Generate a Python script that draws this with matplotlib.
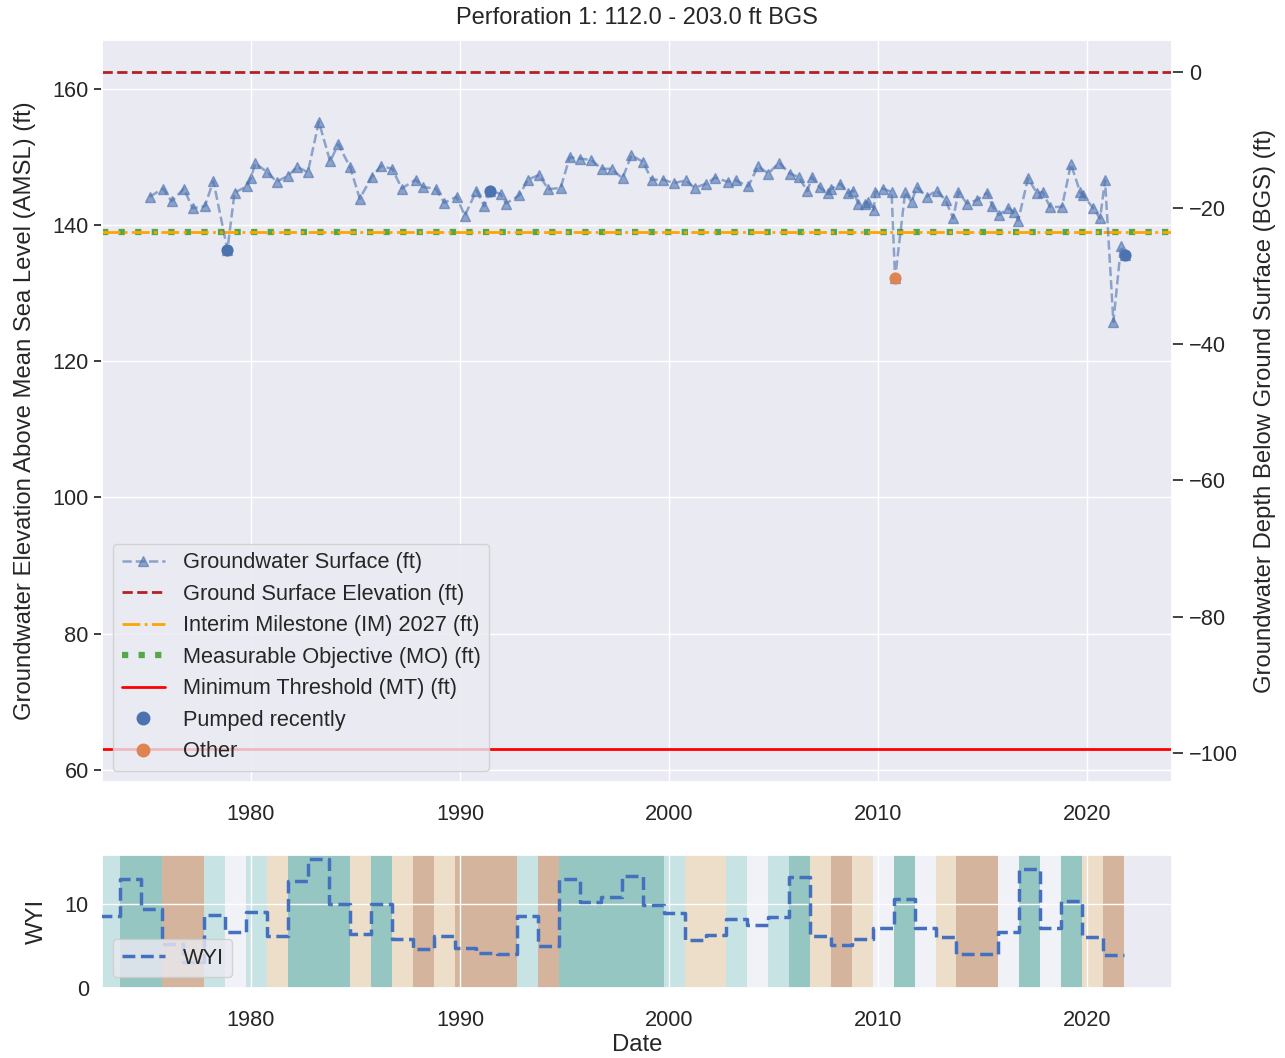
import matplotlib
matplotlib.use('Agg')
import matplotlib.pyplot as plt
from matplotlib.lines import Line2D
import seaborn as sns
import pandas as pd

# ---------------- data ----------------
gw_dates = ['1975-03-01', '1975-10-15', '1976-03-15', '1976-10-15', '1977-03-15', '1977-10-15',
            '1978-03-15', '1978-11-15', '1979-03-20', '1979-10-15', '1980-01-01', '1980-03-15',
            '1980-10-15', '1981-03-25', '1981-10-15', '1982-03-15', '1982-09-20', '1983-04-01',
            '1983-10-15', '1984-03-05', '1984-10-01', '1985-03-15', '1985-10-10', '1986-03-20',
            '1986-10-05', '1987-03-20', '1987-11-15', '1988-04-01', '1988-11-01', '1989-04-01',
            '1989-11-01', '1990-03-25', '1990-10-15', '1991-03-01', '1991-06-10', '1991-12-10',
            '1992-03-15', '1992-11-01', '1993-04-01', '1993-10-10', '1994-03-25', '1994-10-25',
            '1995-04-01', '1995-09-25', '1996-04-15', '1996-10-10', '1997-04-01', '1997-10-10',
            '1998-03-15', '1998-10-05', '1999-03-01', '1999-09-20', '2000-04-01', '2000-10-20',
            '2001-03-25', '2001-10-05', '2002-03-15', '2002-10-20', '2003-03-15', '2003-10-15',
            '2004-04-05', '2004-10-01', '2005-04-05', '2005-10-15', '2006-03-15', '2006-08-15',
            '2006-11-01', '2007-03-15', '2007-08-05', '2007-10-10', '2008-03-15', '2008-07-25',
            '2008-10-20', '2009-01-20', '2009-05-15', '2009-07-01', '2009-10-15', '2009-11-15',
            '2010-03-25', '2010-08-25', '2010-10-25', '2011-04-20', '2011-08-10', '2011-11-05',
            '2012-05-01', '2012-10-20', '2013-03-25', '2013-08-05', '2013-11-05', '2014-04-01',
            '2014-09-25', '2015-03-25', '2015-06-15', '2015-10-10', '2016-03-25', '2016-07-01',
            '2016-09-15', '2017-03-05', '2017-08-10', '2017-11-15', '2018-03-25', '2018-10-20',
            '2019-03-25', '2019-09-01', '2019-10-20', '2020-04-20', '2020-08-15', '2020-11-10',
            '2021-04-05', '2021-08-15', '2021-10-25']
gw_values = [144.2, 145.4, 143.5, 145.4, 142.5, 142.8,
             146.5, 136.4, 144.8, 145.7, 147.0, 149.1,
             147.8, 146.4, 147.3, 148.6, 147.8, 155.2,
             149.4, 151.9, 148.5, 143.9, 147.1, 148.7,
             148.3, 145.4, 146.7, 145.6, 145.4, 143.3,
             144.2, 141.4, 145.1, 142.8, 145.1, 144.6,
             143.2, 144.4, 146.7, 147.4, 145.3, 145.5,
             150.0, 149.8, 149.6, 148.3, 148.3, 146.9,
             150.3, 149.3, 146.7, 146.7, 146.2, 146.6,
             145.5, 146.1, 147.0, 146.4, 146.6, 145.7,
             148.7, 147.6, 149.2, 147.6, 147.1, 145.0,
             147.1, 145.6, 144.7, 145.4, 146.1, 144.7,
             145.1, 143.2, 143.2, 143.4, 142.2, 144.9,
             145.4, 144.9, 132.2, 144.9, 143.4, 145.6,
             144.2, 145.1, 143.7, 141.0, 144.9, 143.2,
             143.7, 144.8, 142.9, 141.5, 142.5, 142.0,
             140.7, 146.9, 144.7, 144.9, 142.7, 142.7,
             149.0, 144.9, 144.4, 142.5, 141.0, 146.6,
             125.8, 136.9, 135.7]

pumped_dates = ['1978-11-15', '1991-06-10', '2021-10-25']
pumped_values = [136.4, 145.1, 135.7]
other_dates = ['2010-10-25']
other_values = [132.2]

ground_surface = 162.5
interim_milestone = 139.0
measurable_objective = 139.0
minimum_threshold = 63.0

water_years = list(range(1973, 2022))
wyi_values = [8.58, 12.99, 9.35, 5.29, 3.11, 8.65, 6.67, 9.04, 6.21, 12.76,
              15.29, 10.00, 6.47, 9.96, 5.86, 4.65, 6.13, 4.81, 4.21, 4.06,
              8.54, 5.02, 12.89, 10.26, 10.82, 13.31, 9.80, 8.94, 5.76, 6.35,
              8.21, 7.51, 8.49, 13.20, 6.19, 5.16, 5.78, 7.08, 10.54, 7.08,
              6.09, 4.07, 4.00, 6.71, 14.14, 7.14, 10.34, 6.05, 3.95]
wy_types = ['AN', 'W', 'W', 'C', 'C', 'AN', 'BN', 'AN', 'D', 'W',
            'W', 'W', 'D', 'W', 'D', 'C', 'D', 'C', 'C', 'C',
            'AN', 'C', 'W', 'W', 'W', 'W', 'W', 'AN', 'D', 'D',
            'AN', 'BN', 'AN', 'W', 'D', 'C', 'D', 'BN', 'W', 'BN',
            'D', 'C', 'C', 'BN', 'W', 'BN', 'W', 'D', 'C']
type_colors = {'W': '#96c6c1', 'AN': '#c8e3e3', 'BN': '#f1f1f8',
               'D': '#ecdec8', 'C': '#d5b49d'}

title = 'Perforation 1: 112.0 - 203.0 ft BGS'

# ---------------- plot ----------------
sns.set_theme(style='darkgrid')
plt.rcParams['font.family'] = ['Liberation Sans', 'DejaVu Sans']

TICK = 15.7
LAB = 17.2

fig = plt.figure(figsize=(12.85, 10.58), dpi=100)
ax = fig.add_axes([0.0794, 0.261, 0.8327, 0.701])
ax2 = ax.twinx()
axb = fig.add_axes([0.0794, 0.066, 0.8327, 0.126])

xmin = pd.Timestamp('1972-11-15')
xmax = pd.Timestamp('2024-01-25')

gd = pd.to_datetime(gw_dates)
ax.plot(gd, gw_values, linestyle='--', marker='^', color='#4c72b0', alpha=0.6,
        markersize=6.5, linewidth=1.8, zorder=3)
ax.axhline(ground_surface, color='#b22222', linestyle='--', linewidth=2, zorder=2)
ax.axhline(measurable_objective, color='#55a84a', linestyle=':', linewidth=4.5, zorder=2)
ax.axhline(interim_milestone, color='orange', linestyle='-.', linewidth=2, zorder=2.1)
ax.axhline(minimum_threshold, color='red', linestyle='-', linewidth=2, zorder=2)
ax.scatter(pd.to_datetime(pumped_dates), pumped_values, s=60, color='#4c72b0', zorder=5)
ax.scatter(pd.to_datetime(other_dates), other_values, s=60, color='#dd8452', zorder=5)

ax.set_xlim(xmin, xmax)
ylo, yhi = 58.2, 167.2
ax.set_ylim(ylo, yhi)
ax.set_yticks([60, 80, 100, 120, 140, 160])
ax2.set_ylim(ylo - ground_surface, yhi - ground_surface)
ax2.set_yticks([0, -20, -40, -60, -80, -100])
ax2.grid(False)
ax2.tick_params(axis='y', right=True, length=8, width=1.3, color='#333333',
                labelsize=TICK, pad=4)
ax.tick_params(axis='both', labelsize=TICK)
ax.tick_params(axis='x', pad=10)
ax.set_ylabel('Groundwater Elevation Above Mean Sea Level (AMSL) (ft)', fontsize=LAB, labelpad=12)
ax2.set_ylabel('Groundwater Depth Below Ground Surface (BGS) (ft)', fontsize=LAB, labelpad=12)
ax.set_title(title, fontsize=17, pad=12)

handles = [
    Line2D([], [], linestyle='--', marker='^', color='#4c72b0', alpha=0.6, markersize=6.5, linewidth=1.8),
    Line2D([], [], color='#b22222', linestyle='--', linewidth=2),
    Line2D([], [], color='orange', linestyle='-.', linewidth=2),
    Line2D([], [], color='#55a84a', linestyle=':', linewidth=4.5),
    Line2D([], [], color='red', linestyle='-', linewidth=2),
    Line2D([], [], linestyle='none', marker='o', color='#4c72b0', markersize=9),
    Line2D([], [], linestyle='none', marker='o', color='#dd8452', markersize=9),
]
labels = ['Groundwater Surface (ft)', 'Ground Surface Elevation (ft)',
          'Interim Milestone (IM) 2027 (ft)', 'Measurable Objective (MO) (ft)',
          'Minimum Threshold (MT) (ft)', 'Pumped recently', 'Other']
ax.legend(handles, labels, loc='lower left', fontsize=TICK, handlelength=2.0,
          borderaxespad=0.5, labelspacing=0.48)

# WYI panel
for wy, t in zip(water_years, wy_types):
    axb.axvspan(pd.Timestamp(f'{wy - 1}-10-01'), pd.Timestamp(f'{wy}-10-01'),
                color=type_colors[t], linewidth=0, zorder=0)
wyi_x = [pd.Timestamp(f'{wy - 1}-10-01') for wy in water_years] + [pd.Timestamp(f'{water_years[-1]}-10-01')]
wyi_y = wyi_values + [wyi_values[-1]]
axb.plot(wyi_x, wyi_y, drawstyle='steps-post', linestyle='--', color='#4470c0',
         linewidth=2.5, label='WYI', zorder=3)
axb.set_xlim(xmin, xmax)
axb.set_ylim(0, 15.8)
axb.set_yticks([0, 10])
axb.tick_params(axis='both', labelsize=TICK)
axb.tick_params(axis='x', pad=10)
axb.set_ylabel('WYI', fontsize=LAB, labelpad=12)
axb.set_xlabel('Date', fontsize=LAB, labelpad=2)
axb.legend(loc='lower left', fontsize=TICK, handlelength=2.0)

fig.savefig('out.png', dpi=100)
